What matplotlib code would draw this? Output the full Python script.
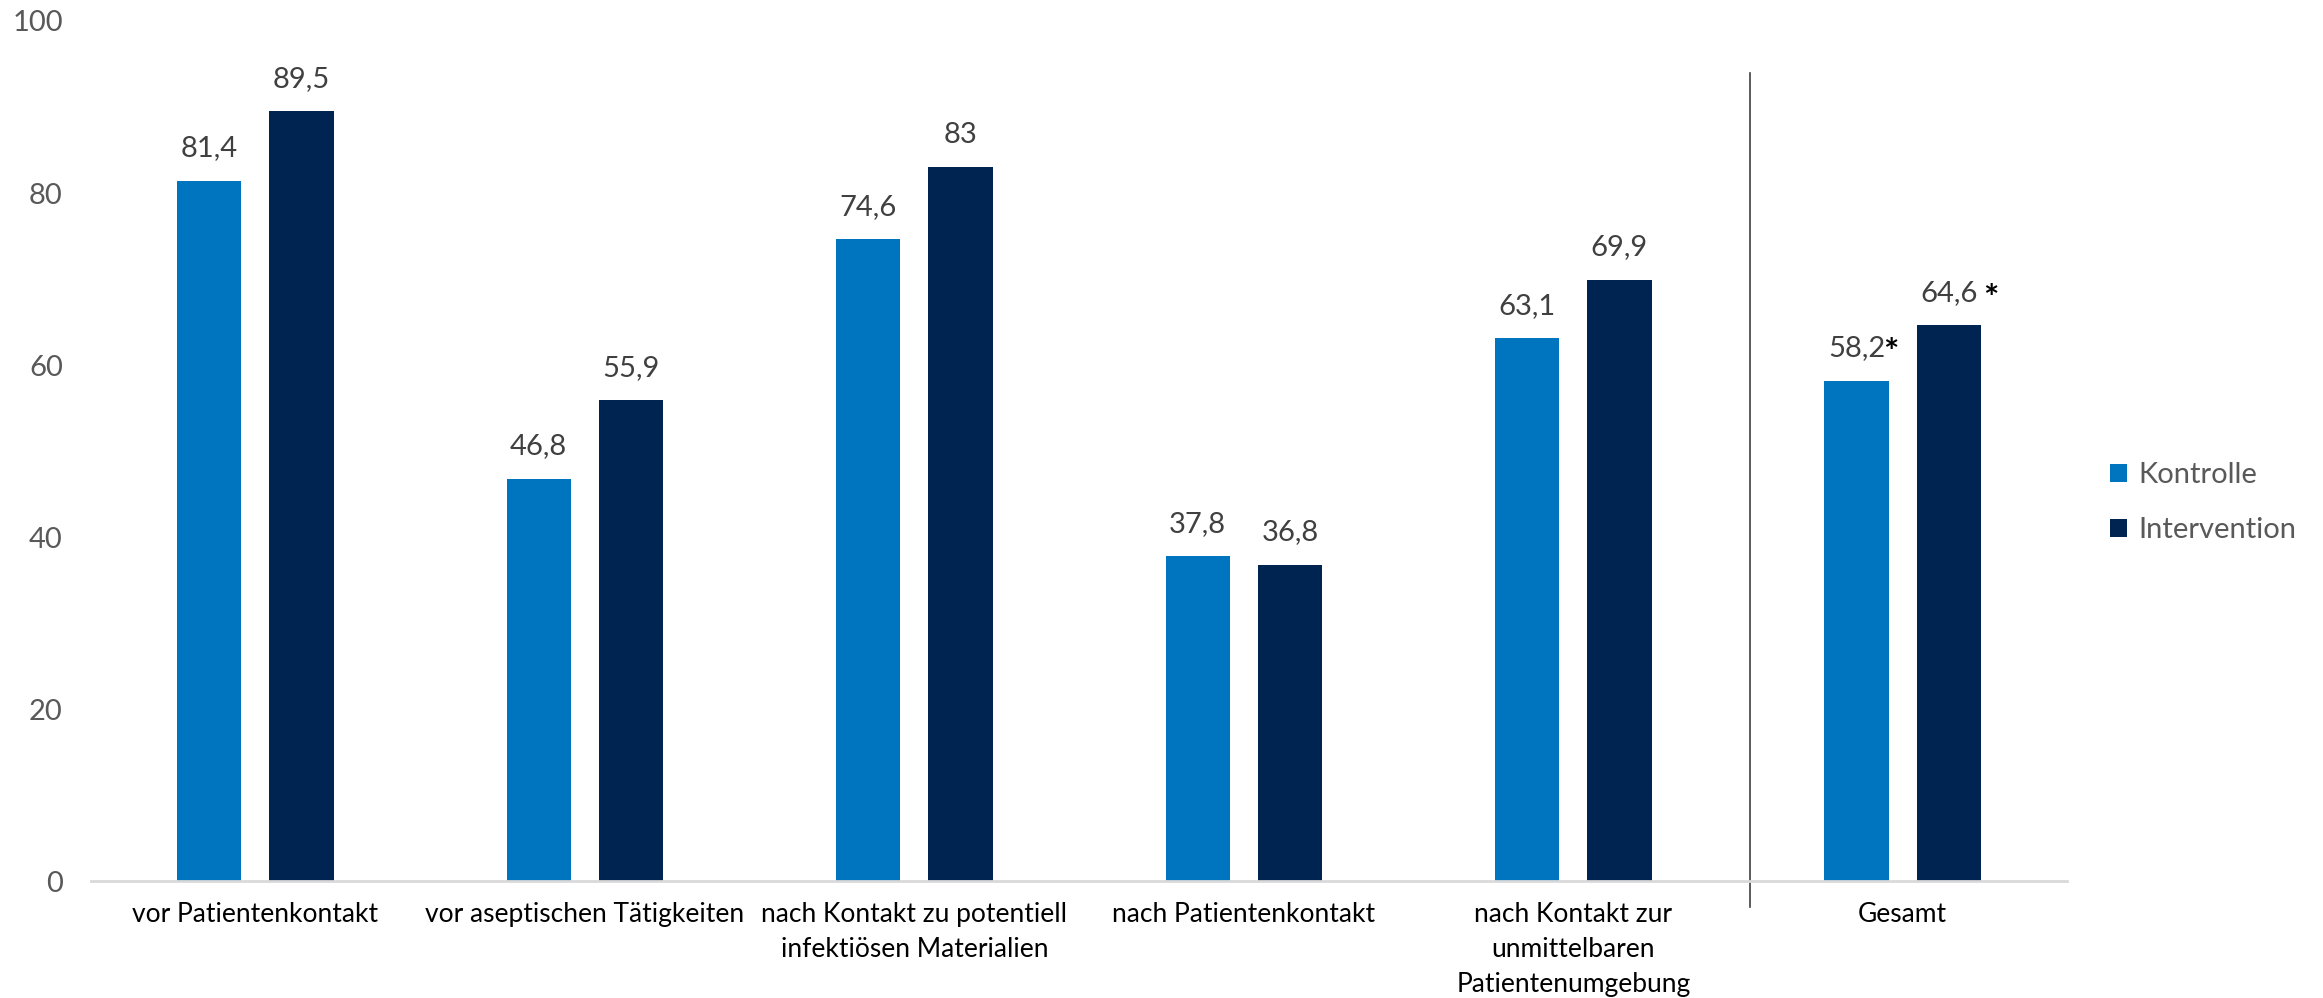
import matplotlib.pyplot as plt
import numpy as np

categories = ['vor Patientenkontakt', 'vor aseptischen Tätigkeiten',
              'nach Kontakt zu potentiell\ninfektiösen Materialien',
              'nach Patientenkontakt',
              'nach Kontakt zur\nunmittelbaren\nPatientenumgebung',
              'Gesamt']
kontrolle = [81.4, 46.8, 74.6, 37.8, 63.1, 58.2]
intervention = [89.5, 55.9, 83, 36.8, 69.9, 64.6]
kontrolle_labels = ['81,4', '46,8', '74,6', '37,8', '63,1', '58,2']
intervention_labels = ['89,5', '55,9', '83', '36,8', '69,9', '64,6']
yticks = [0, 20, 40, 60, 80, 100]

plt.rcParams['font.family'] = ['Lato', 'DejaVu Sans']

c_k = '#0075BF'
c_i = '#002452'

fig = plt.figure(figsize=(23.23, 9.98), dpi=100)
ax = fig.add_axes([0.039, 0.117, 0.851, 0.862])

x = np.arange(len(categories))
w = 0.195
off = 0.14
b1 = ax.bar(x - off, kontrolle, w, color=c_k, label='Kontrolle')
b2 = ax.bar(x + off, intervention, w, color=c_i, label='Intervention')

for bars, labels in [(b1, kontrolle_labels), (b2, intervention_labels)]:
    for rect, lab in zip(bars, labels):
        ax.annotate(lab, (rect.get_x() + rect.get_width() / 2, rect.get_height()),
                    xytext=(0, 14), textcoords='offset points',
                    ha='center', va='bottom', fontsize=21, color='#404040')

# significance stars on the Gesamt group
ax.annotate('*', (x[-1] - off, kontrolle[-1]), xytext=(25, 12), textcoords='offset points',
            ha='center', va='baseline', fontsize=26, fontweight='bold', color='black')
ax.annotate('*', (x[-1] + off, intervention[-1]), xytext=(30, 11), textcoords='offset points',
            ha='center', va='baseline', fontsize=26, fontweight='bold', color='black')

ax.set_xlim(-0.5, len(categories) - 0.5)
ax.set_ylim(0, 100)
ax.set_yticks(yticks)
ax.set_xticks(x)
ax.set_xticklabels(categories, fontsize=19, color='black', linespacing=1.5, va='top')
ax.tick_params(axis='x', length=0, pad=15)
ax.tick_params(axis='y', length=0, pad=20, labelsize=21, labelcolor='#595959')

for s in ['top', 'right', 'left']:
    ax.spines[s].set_visible(False)
ax.spines['bottom'].set_color('#D9D9D9')
ax.spines['bottom'].set_linewidth(2)

# separator before Gesamt
ax.plot([4.535, 4.535], [-3, 94], color='#404040', linewidth=1.2, clip_on=False)

leg = ax.legend(loc='center left', bbox_to_anchor=(1.008, 0.44), frameon=False,
                fontsize=21, handlelength=0.6, handleheight=0.6, handletextpad=0.4,
                labelspacing=1.0, labelcolor='#595959')

fig.savefig('out.png', dpi=100)
